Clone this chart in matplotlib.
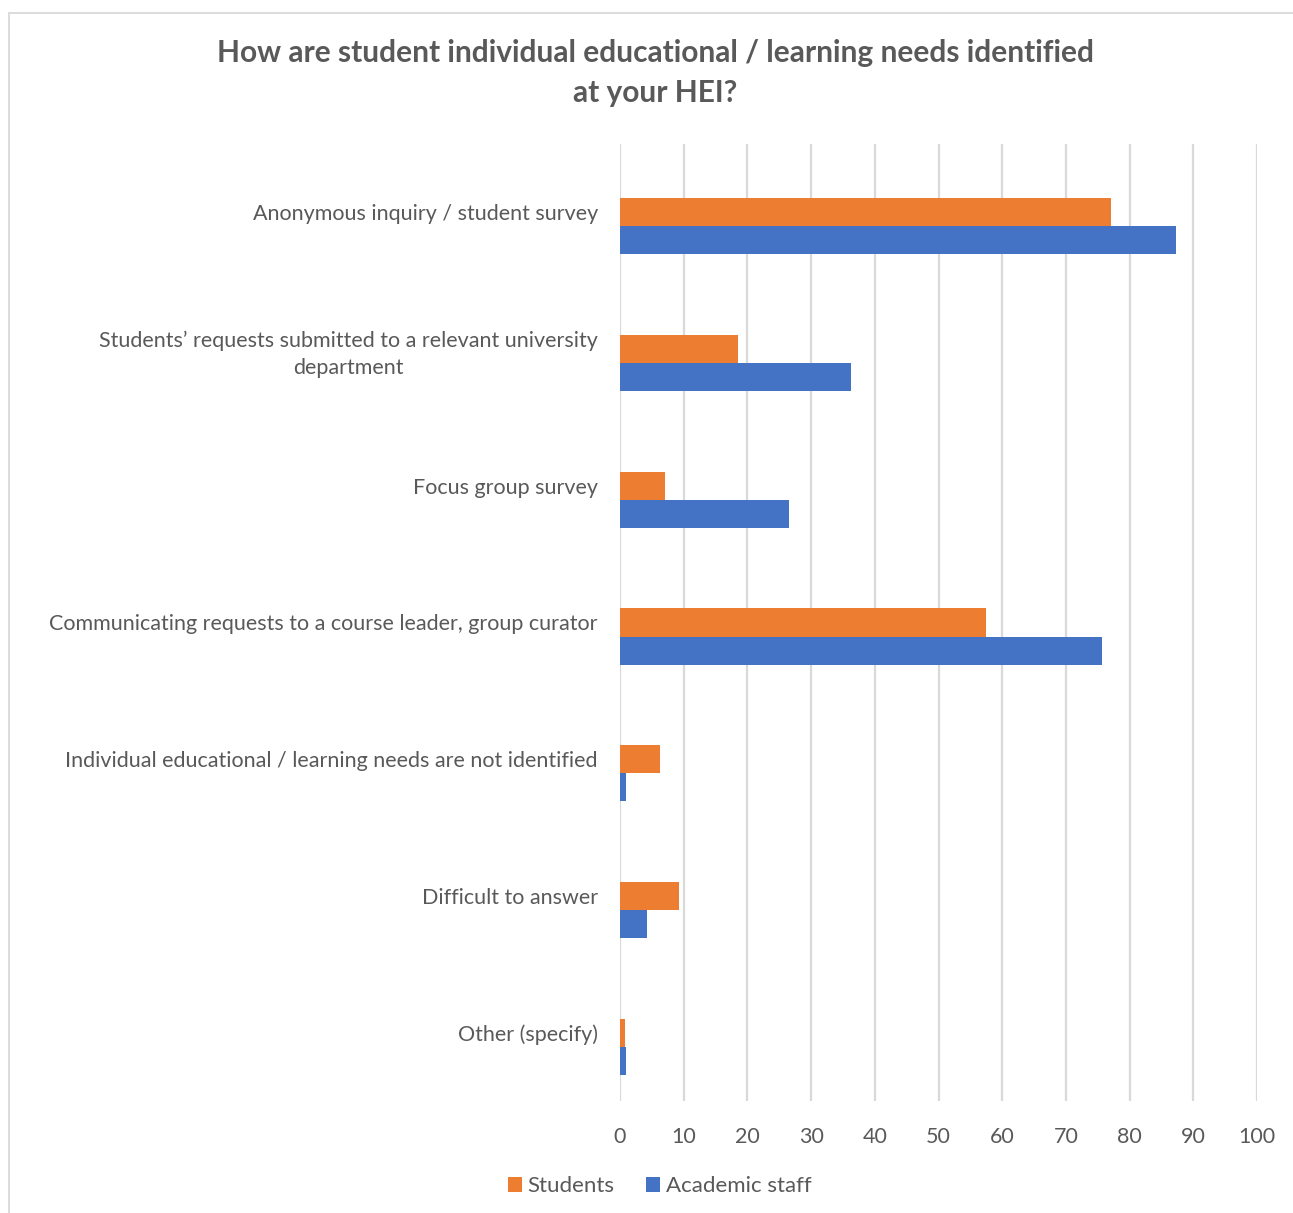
import matplotlib.pyplot as plt
from matplotlib.patches import Rectangle
import numpy as np

plt.rcParams['font.family'] = ['Lato', 'DejaVu Sans']

categories = [
    'Anonymous inquiry / student survey',
    'Students\u2019 requests submitted to a relevant university\ndepartment',
    'Focus group survey',
    'Communicating requests to a course leader, group curator',
    'Individual educational / learning needs are not identified',
    'Difficult to answer',
    'Other (specify)',
]
students = [77.1, 18.6, 7.1, 57.5, 6.3, 9.3, 0.8]
staff = [87.3, 36.2, 26.5, 75.6, 0.9, 4.2, 0.9]
xticks = list(range(0, 101, 10))

TEXT = '#595959'
GRID = '#d9d9d9'
ORANGE = '#ED7D31'
BLUE = '#4472C4'

fig = plt.figure(figsize=(12.93, 12.13), dpi=100)
ax = fig.add_axes([620 / 1293, 1 - 1101 / 1213, 637 / 1293, 957 / 1213])

y = np.arange(len(categories))
h = 0.205
ax.barh(y, students, height=h, color=ORANGE, label='Students', zorder=3)
ax.barh(y + h, staff, height=h, color=BLUE, label='Academic staff', zorder=3)

ax.set_xlim(0, 100)
ax.set_ylim(len(categories) - 0.5, -0.5)
ax.set_xticks(xticks)
ax.set_xticklabels([str(t) for t in xticks])
ax.set_yticks(y)
ax.set_yticklabels(categories)
for lab in ax.get_yticklabels():
    lab.set_multialignment('center')
    lab.set_linespacing(1.45)
    lab.set_fontsize(16.7)

ax.grid(axis='x', color=GRID, linewidth=1.6, zorder=0)
for s in ax.spines.values():
    s.set_visible(False)
ax.tick_params(axis='both', length=0, colors=TEXT, labelsize=15.5)
ax.tick_params(axis='y', pad=16)
ax.tick_params(axis='x', pad=19)

fig.text(0.507, 1 - 73 / 1213,
         'How are student individual educational / learning needs identified\nat your HEI?',
         ha='center', va='center', fontsize=21.5, fontweight='bold', color=TEXT,
         linespacing=1.5)

fig.legend(loc='center', bbox_to_anchor=(0.51, 1 - 1186 / 1213), ncol=2,
           frameon=False, fontsize=16, handlelength=0.65, handleheight=0.65,
           handletextpad=0.25, columnspacing=1.4, labelcolor=TEXT)

# chart border
fig.patches.append(Rectangle((9 / 1293, -0.01), 1.0, 1 - 12.5 / 1213 + 0.01,
                             transform=fig.transFigure, fill=False,
                             edgecolor=GRID, linewidth=1.3))

fig.savefig('out.png', dpi=100, facecolor='white')
